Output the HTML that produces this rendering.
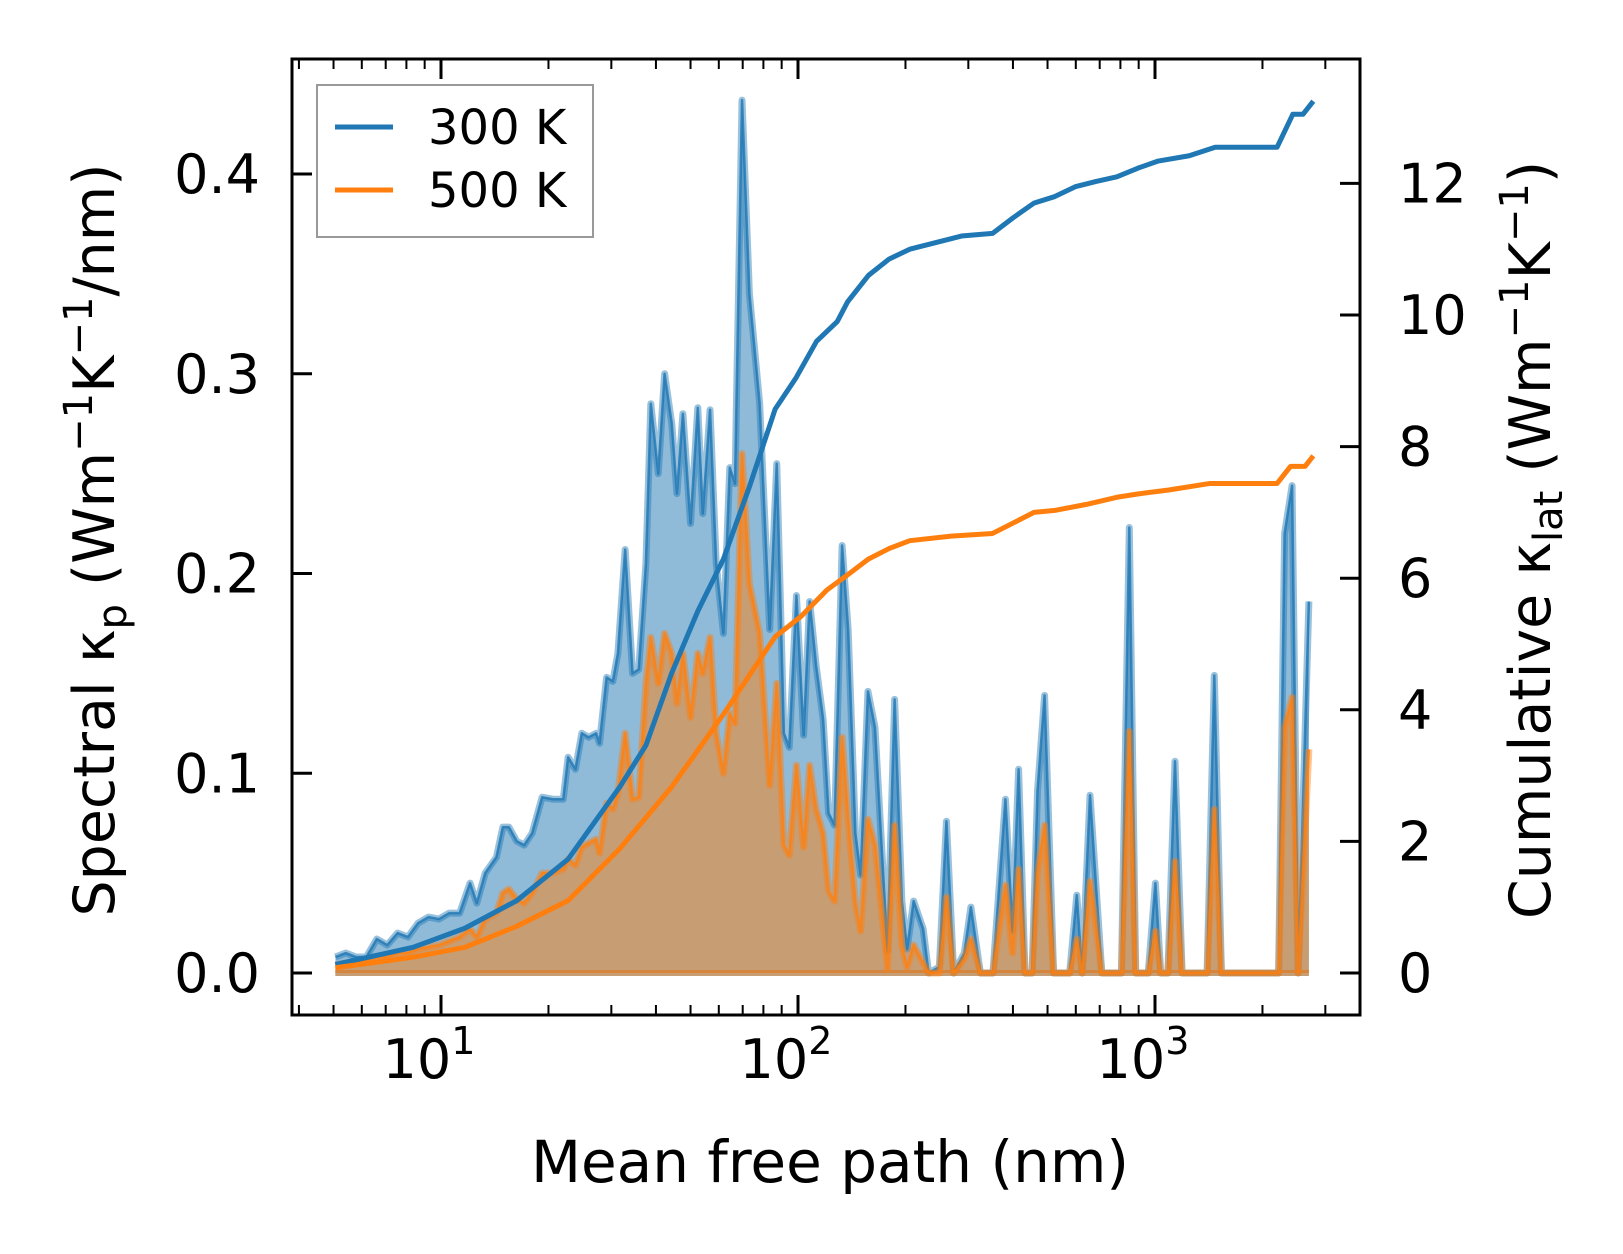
<!DOCTYPE html>
<html><head><meta charset="utf-8"><style>
html,body{margin:0;padding:0;background:#fff;}
svg{display:block;font-family:"DejaVu Sans","Liberation Sans",sans-serif;}
</style></head><body>
<svg id="chart" width="1623" height="1254" viewBox="0 0 1623 1254" xmlns="http://www.w3.org/2000/svg">
<rect width="1623" height="1254" fill="#fff"/>
<defs><clipPath id="clip"><rect x="292" y="59" width="1068" height="956"/></clipPath></defs>
<g id="plot" clip-path="url(#clip)"></g>
<g id="axes"></g>
</svg>
<script>
// ---- data ----
const mfp = [5.06,5.41,5.78,6.18,6.61,7.07,7.56,8.08,8.63,9.23,9.87,10.55,11.28,12.06,12.6,13.3,14.3,14.9,15.5,16.3,17.1,18.0,19.2,20.6,22.0,22.7,23.8,24.8,25.9,27.2,27.8,29.1,30.3,31.3,32.8,34.4,35.8,37.5,38.7,40.6,42.3,44.3,45.8,47.6,50.0,52.4,54.1,56.7,59.0,61.8,64.4,66.6,69.7,73.1,78.1,
83.3,87.2,91.3,94.5,99.0,103.7,107.8,112.4,117.6,121.8,126.6,132.9,138.2,144.8,149.8,157.0,164.3,178.1,186.5,195.4,202.1,210.8,224.2,232.2,248.8,260.5,272.9,292.4,305,324.3,351.6,381.1,398.9,414.9,432.4,452.6,468.7,490.6,520.0,576.7,603.9,625.0,657.6,709.6,805.3,847.3,883.0,957.2,1002.6,1037.5,1086.7,1137.6,1191.0,1399.5,1466.1,1534.8,2219.5,2307,2421,2518,2698];
const spec300 = [0.008,0.010,0.008,0.008,0.017,0.014,0.020,0.018,0.025,0.028,0.027,0.030,0.030,0.045,0.035,0.050,0.058,0.073,0.073,0.066,0.064,0.070,0.088,0.087,0.087,0.108,0.102,0.120,0.118,0.120,0.115,0.148,0.146,0.160,0.212,0.150,0.152,0.205,0.285,0.250,0.300,0.275,0.240,0.280,0.225,0.283,0.230,0.282,0.205,0.170,0.253,0.245,0.437,0.340,0.285,
0.172,0.255,0.120,0.113,0.189,0.119,0.186,0.154,0.127,0.080,0.074,0.214,0.172,0.070,0.049,0.141,0.123,0.011,0.137,0.036,0.012,0.036,0.022,0.0,0.003,0.076,0.0,0.010,0.033,0.0,0.0,0.087,0.021,0.102,0.0,0.0,0.091,0.139,0.0,0.0,0.039,0.0,0.089,0.0,0.0,0.223,0.0,0.0,0.045,0.0,0.0,0.106,0.0,0.0,0.149,0.0,0.0,0.220,0.244,0.0,0.186];
const spec500 = [0.004,0.005,0.005,0.006,0.008,0.008,0.010,0.010,0.012,0.013,0.014,0.016,0.018,0.022,0.018,0.027,0.030,0.040,0.042,0.037,0.035,0.040,0.050,0.050,0.052,0.057,0.054,0.063,0.065,0.067,0.060,0.085,0.082,0.090,0.120,0.087,0.088,0.145,0.168,0.145,0.170,0.160,0.135,0.160,0.128,0.160,0.150,0.168,0.120,0.100,0.130,0.125,0.260,0.195,0.170,
0.094,0.145,0.064,0.059,0.104,0.063,0.104,0.082,0.070,0.041,0.036,0.118,0.077,0.035,0.021,0.077,0.064,0.002,0.074,0.014,0.003,0.014,0.005,0.0,0.0,0.038,0.0,0.007,0.017,0.0,0.0,0.044,0.010,0.052,0.0,0.0,0.050,0.074,0.0,0.0,0.017,0.0,0.046,0.0,0.0,0.121,0.0,0.0,0.021,0.0,0.0,0.056,0.0,0.0,0.082,0.0,0.0,0.123,0.138,0.0,0.112];
const cumMfp300 = [5.06,8.35,11.66,16.3,22.7,31.7,37.5,44.3,52.4,61.8,73.1,86.3,98.6,112.7,128.8,137.7,157.4,179.9,205.6,235,287,350.8,401,458,524,598,684,782,894,1021,1247,1474,2198,2432,2597,2776];
const cum300 = [0.13,0.39,0.68,1.1,1.73,2.83,3.46,4.56,5.5,6.29,7.39,8.57,9.04,9.6,9.9,10.2,10.6,10.85,11.0,11.08,11.2,11.24,11.48,11.7,11.8,11.95,12.03,12.1,12.23,12.34,12.42,12.55,12.55,13.05,13.05,13.25];
const cumMfp500 = [5.06,8.35,11.66,16.3,22.7,31.7,44.3,61.8,75.5,86.3,102,120.5,137.7,157.4,179.9,205.6,268.5,350.8,401,458,524,640,782,894,1092,1426,2198,2398,2633,2776];
const cum500 = [0.08,0.24,0.39,0.71,1.1,1.89,2.83,3.93,4.64,5.11,5.42,5.82,6.05,6.29,6.45,6.57,6.64,6.68,6.84,7.0,7.03,7.12,7.23,7.28,7.34,7.44,7.44,7.7,7.7,7.86];
const leftTicks = [0.0,0.1,0.2,0.3,0.4];
const leftTickLabels = ["0.0","0.1","0.2","0.3","0.4"];
const rightTicks = [0,2,4,6,8,10,12];
const xMajor = [1,2,3];
const seriesNames = ["300 K","500 K"];

// ---- axis functions ----
const L=292,R=1360,T=59,B=1015;
const X = v => 798 + 357*(Math.log10(v)-2);
const YL = v => 973 - v*1997.5;
const YR = v => 973 - v*65.8;
const NS="http://www.w3.org/2000/svg";
function mk(tag, attrs, parent){const e=document.createElementNS(NS,tag);for(const k in attrs)e.setAttribute(k,attrs[k]);parent.appendChild(e);return e;}
const plot=document.getElementById('plot'), axes=document.getElementById('axes');

function drawSpec(vals,color,name){
  let d=`M${X(mfp[0])},${YL(0)}`;
  let ln='';
  mfp.forEach((m,i)=>{d+=`L${X(m)},${YL(vals[i])}`;ln+=(i?'L':'M')+X(m)+','+YL(vals[i]);});
  d+=`L${X(mfp[mfp.length-1])},${YL(0)}Z`;
  const f=mk('path',{d:d,fill:color,'fill-opacity':0.5,stroke:'none'},plot);
  
  
  const base=mk('path',{d:`M${X(mfp[0])},${YL(0)}L${X(mfp[mfp.length-1])},${YL(0)}`,stroke:color,'stroke-opacity':0.5,'stroke-width':6,fill:'none'},plot);
  
  
  const w=mk('path',{d:ln,stroke:color,'stroke-opacity':0.45,'stroke-width':7,fill:'none','stroke-linejoin':'round'},plot);
  
  
  const l=mk('path',{d:ln,stroke:color,'stroke-opacity':0.8,'stroke-width':2.5,fill:'none','stroke-linejoin':'round'},plot);
  
  
}
drawSpec(spec300,'#1f77b4','spectral-300k');
drawSpec(spec500,'#ff7f0e','spectral-500k');

function drawCum(xs,vals,color,name){
  const d=xs.map((m,i)=>(i?'L':'M')+X(m)+','+YR(vals[i])).join('');
  const p=mk('path',{d:d,stroke:color,'stroke-width':5,fill:'none','stroke-linejoin':'round'},plot);
  
  
}
drawCum(cumMfp300,cum300,'#1f77b4','cumulative-300k');
drawCum(cumMfp500,cum500,'#ff7f0e','cumulative-500k');

// spines
const fr=mk('rect',{x:L,y:T,width:R-L,height:B-T,fill:'none',stroke:'#000','stroke-width':3},axes);



// x ticks
for(let dec=0;dec<=3;dec++){
  for(let k=1;k<10;k++){
    const v=k*Math.pow(10,dec);
    if(v<4||v>3500) continue;
    const x=X(v), len=(k===1)?20:10;
    mk('line',{x1:x,x2:x,y1:B,y2:B-len,stroke:'#000','stroke-width':k===1?3:2},axes);
    mk('line',{x1:x,x2:x,y1:T,y2:T+len,stroke:'#000','stroke-width':k===1?3:2},axes);
  }
}
xMajor.forEach(p=>{
  const t=mk('text',{x:X(Math.pow(10,p))-12,y:1078,'font-size':54,'text-anchor':'middle'},axes);
  
  
  t.textContent='10';
  const s=mk('tspan',{'font-size':38,dy:-24},t);s.textContent=String(p);
});
leftTicks.forEach((v,i)=>{
  const y=YL(v);
  mk('line',{x1:L,x2:L+20,y1:y,y2:y,stroke:'#000','stroke-width':3},axes);
  const t=mk('text',{x:260,y:y+19,'font-size':54,'text-anchor':'end'},axes);
  
  
  t.textContent=leftTickLabels[i];
});
rightTicks.forEach(v=>{
  const y=YR(v);
  mk('line',{x1:R,x2:R-20,y1:y,y2:y,stroke:'#000','stroke-width':3},axes);
  const t=mk('text',{x:1398,y:y+19,'font-size':54,'text-anchor':'start'},axes);
  
  
  t.textContent=String(v);
});

// legend
const lg=mk('g',{},axes);


mk('rect',{x:317,y:85,width:276,height:152,fill:'#fff','fill-opacity':0.8,stroke:'#999','stroke-width':2},lg);
['#1f77b4','#ff7f0e'].forEach((c,i)=>{
  const y=127+i*63;
  const e=mk('g',{},lg);
  
  
  mk('line',{x1:335,x2:393,y1:y,y2:y,stroke:c,'stroke-width':5},e);
  const t=mk('text',{x:428,y:y+17,'font-size':48},e);
  t.textContent=seriesNames[i];
});

function addText(attrs,html,name){const t=document.createElementNS(NS,'text');for(const k in attrs)t.setAttribute(k,attrs[k]);t.innerHTML=html;document.getElementById('chart').appendChild(t);

}
addText({x:830,y:1182,'font-size':58,'text-anchor':'middle'},'Mean free path (nm)','x-axis-title');
addText({x:0,y:0,'font-size':57,'text-anchor':'middle',transform:'translate(114,540) rotate(-90)'},'Spectral κ<tspan font-size="40" dy="12">p</tspan><tspan dy="-12"> (Wm</tspan><tspan font-size="40" dy="-22">−1</tspan><tspan dy="22">K</tspan><tspan font-size="40" dy="-22">−1</tspan><tspan dy="22">/nm)</tspan>','left-axis-title');
addText({x:0,y:0,'font-size':57,'text-anchor':'middle',transform:'translate(1550,540) rotate(-90)'},'Cumulative κ<tspan font-size="40" dy="12">lat</tspan><tspan dy="-12"> (Wm</tspan><tspan font-size="40" dy="-22">−1</tspan><tspan dy="22">K</tspan><tspan font-size="40" dy="-22">−1</tspan><tspan dy="22">)</tspan>','right-axis-title');
</script>
</body></html>
